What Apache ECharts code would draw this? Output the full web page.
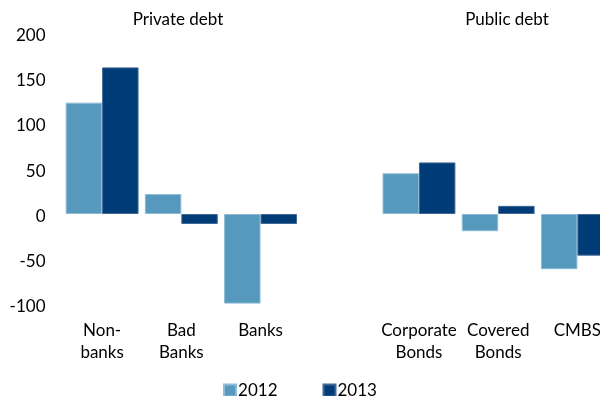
<!DOCTYPE html>
<html>
<head>
<meta charset="utf-8">
<script src="https://cdn.jsdelivr.net/npm/echarts@6/dist/echarts.min.js"></script>
<style>
  html, body { margin: 0; padding: 0; background: #fff; }
  #chart { width: 600px; height: 396px; }
</style>
</head>
<body>
<div id="chart"></div>
<script>
// Categories (the blank entry separates the private and public debt groups)
var categories = ['Non-\nbanks', 'Bad\nBanks', 'Banks', '', 'Corporate\nBonds', 'Covered\nBonds', 'CMBS'];
var values2012 = [123, 22, -99, null, 45, -19, -61];
var values2013 = [162, -11, -11, null, 57, 9, -46];
var seriesNames = ['2012', '2013'];
var yTicks = { min: -100, max: 200, interval: 50 };
var groupTitles = ['Private debt', 'Public debt'];

var FONT = 'Lato';
var chart = echarts.init(document.getElementById('chart'), null, { renderer: 'canvas' });

chart.setOption({
  animation: false,
  backgroundColor: '#ffffff',
  textStyle: { fontFamily: FONT },
  title: [
    { text: groupTitles[0], left: 178, top: 11, textAlign: 'center', padding: 0,
      textStyle: { fontFamily: FONT, fontSize: 17, fontWeight: 'normal', color: '#000' } },
    { text: groupTitles[1], left: 507, top: 11, textAlign: 'center', padding: 0,
      textStyle: { fontFamily: FONT, fontSize: 17, fontWeight: 'normal', color: '#000' } }
  ],
  legend: {
    data: seriesNames,
    left: 'center',
    top: 382,
    padding: 0,
    itemWidth: 12,
    itemHeight: 12,
    itemGap: 45,
    icon: 'rect',
    textStyle: { fontFamily: FONT, fontSize: 17, color: '#000', padding: [0, 0, 0, -3] }
  },
  // the plot area runs past the right edge, so the last bar is cut off
  grid: { left: 62.5, top: 33, width: 554.5, height: 271.5, containLabel: false, outerBoundsMode: 'none' },
  xAxis: {
    type: 'category',
    data: categories,
    axisLine: { show: false, onZero: false },
    axisTick: { show: false },
    splitLine: { show: false },
    axisLabel: {
      interval: 0,
      margin: 15,
      fontFamily: FONT,
      fontSize: 17,
      lineHeight: 22,
      color: '#000',
      verticalAlign: 'top'
    }
  },
  yAxis: {
    type: 'value',
    min: yTicks.min,
    max: yTicks.max,
    interval: yTicks.interval,
    axisLine: { show: false },
    axisTick: { show: false },
    splitLine: { show: false },
    axisLabel: {
      margin: 17,
      formatter: '{v|{value}}',
      rich: { v: { fontFamily: FONT, fontSize: 17, color: '#000', padding: [5, 0, 0, 0] } }
    }
  },
  series: [
    {
      name: seriesNames[0],
      type: 'bar',
      data: values2012,
      barGap: '0%',
      barCategoryGap: '8%',
      itemStyle: { color: '#5699BD', borderColor: '#8dbbd5', borderWidth: 1 }
    },
    {
      name: seriesNames[1],
      type: 'bar',
      data: values2013,
      barGap: '0%',
      barCategoryGap: '8%',
      itemStyle: { color: '#003D78', borderColor: '#3f6794', borderWidth: 1 }
    }
  ]
});
</script>
</body>
</html>
